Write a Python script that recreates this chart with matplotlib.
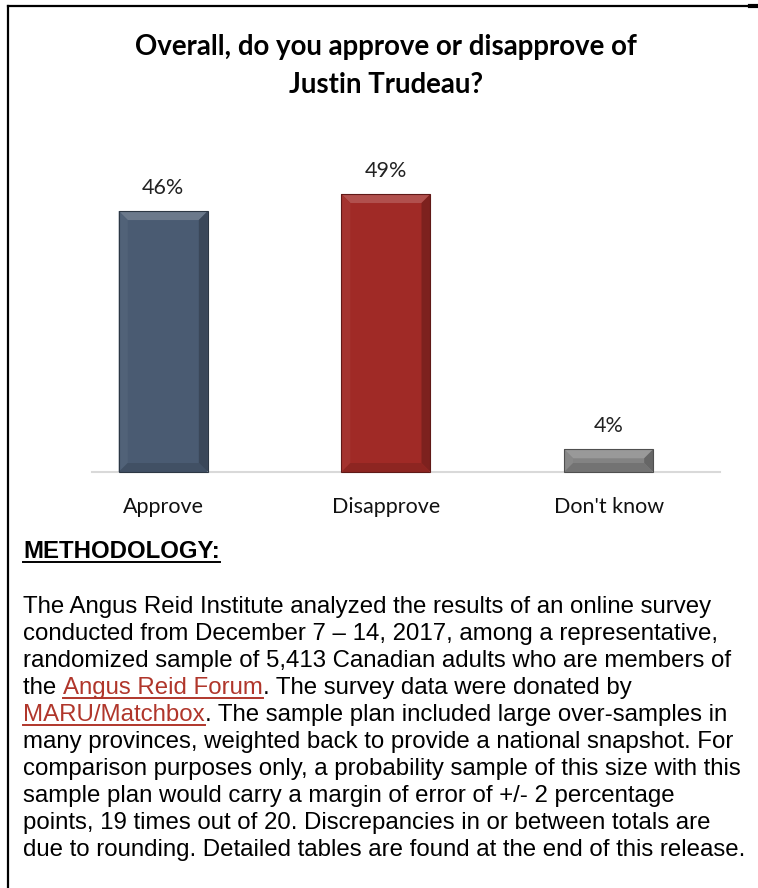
import matplotlib
matplotlib.use("Agg")
import matplotlib.pyplot as plt
import matplotlib.colors as mcolors
from matplotlib.lines import Line2D
from matplotlib.patches import Polygon
from matplotlib.transforms import IdentityTransform

# chart data
categories = ["Approve", "Disapprove", "Don't know"]
values = [46, 49, 4]
bar_colors = ["#4A5B72", "#A02A26", "#838383"]

title = "Overall, do you approve or disapprove of\nJustin Trudeau?"

# methodology text, one entry per line; (text, is_link) pieces
method_lines = [
    [("The Angus Reid Institute analyzed the results of an online survey", False)],
    [("conducted from December 7 \u2013 14, 2017, among a representative,", False)],
    [("randomized sample of 5,413 Canadian adults who are members of", False)],
    [("the ", False), ("Angus Reid Forum", True), (". The survey data were donated by", False)],
    [("MARU/Matchbox", True), (". The sample plan included large over-samples in", False)],
    [("many provinces, weighted back to provide a national snapshot. For", False)],
    [("comparison purposes only, a probability sample of this size with this", False)],
    [("sample plan would carry a margin of error of +/- 2 percentage", False)],
    [("points, 19 times out of 20. Discrepancies in or between totals are", False)],
    [("due to rounding. Detailed tables are found at the end of this release.", False)],
]


def shade(c, f):
    # f > 0 lighten toward white, f < 0 darken toward black
    r, g, b = mcolors.to_rgb(c)
    if f > 0:
        return (r + (1 - r) * f, g + (1 - g) * f, b + (1 - b) * f)
    return (r * (1 + f), g * (1 + f), b * (1 + f))


W, H = 758, 888
fig = plt.figure(figsize=(W / 100, H / 100), dpi=100)
fig.patch.set_facecolor("white")

# bar chart area
ax = fig.add_axes([92 / W, (H - 472) / H, 628 / W, (472 - 160) / H])
x = range(len(categories))
bars = ax.bar(x, values, width=0.40, color=bar_colors, edgecolor="none", zorder=3)
for b, v in zip(bars, values):
    ax.annotate(f"{v}%", (b.get_x() + b.get_width() / 2, v), xytext=(0, 9.5),
                textcoords="offset points", ha="center", va="bottom",
                fontsize=15.5, family="Lato", color="#222222")
ax.set_xlim(-0.32, 2.5)
ax.set_ylim(0, 55)
ax.set_xticks(list(x))
ax.set_xticklabels(categories, fontsize=15.5, family="Lato", color="#111111")
ax.tick_params(axis="x", length=0, pad=18)
ax.set_yticks([])
for s in ["top", "right", "left"]:
    ax.spines[s].set_visible(False)
ax.spines["bottom"].set_color("#D9D9D9")
ax.spines["bottom"].set_linewidth(1.5)
ax.spines["bottom"].set_zorder(4)

# bevelled look on each bar, drawn in pixel space from the bar geometry
bev = 9
for b, c in zip(bars, bar_colors):
    (x0, y0), (x1, y1) = ax.transData.transform([(b.get_x(), 0), (b.get_x() + b.get_width(), b.get_height())])
    d = min(bev, (y1 - y0) / 2)
    faces = [
        ([(x0, y1), (x1, y1), (x1 - d, y1 - d), (x0 + d, y1 - d)], shade(c, 0.18)),
        ([(x0, y0), (x0, y1), (x0 + d, y1 - d), (x0 + d, y0 + d)], shade(c, 0.04)),
        ([(x1, y0), (x1, y1), (x1 - d, y1 - d), (x1 - d, y0 + d)], shade(c, -0.22)),
        ([(x0, y0), (x1, y0), (x1 - d, y0 + d), (x0 + d, y0 + d)], shade(c, -0.12)),
    ]
    for pts, fc in faces:
        fig.add_artist(Polygon(pts, closed=True, transform=IdentityTransform(),
                               facecolor=fc, edgecolor="none", zorder=5))
    fig.add_artist(Polygon([(x0, y0), (x1, y0), (x1, y1), (x0, y1)], closed=True,
                           transform=IdentityTransform(), facecolor="none",
                           edgecolor=shade(c, -0.4), lw=0.8, zorder=6))

fig.text(386 / W, 1 - 66 / H, title, ha="center", va="center", fontsize=19.9,
         family="Lato", fontweight="bold", linespacing=1.6)

# outer frame (top and left only)
fig.add_artist(Line2D([8 / W, 750 / W], [1 - 6 / H, 1 - 6 / H], color="black", lw=1.6))
fig.add_artist(Line2D([750 / W, 758 / W], [1 - 6 / H, 1 - 6 / H], color="black", lw=3))
fig.add_artist(Line2D([8 / W, 8 / W], [1 - 6 / H, 0], color="black", lw=1.6))

# methodology block
body_font = dict(family="Liberation Sans", fontsize=17.3)
link_color = "#B0362B"
heading = fig.text(23 / W, 1 - 552 / H, "METHODOLOGY:", ha="left", va="center",
                   fontweight="bold", color="black", **body_font)
underlined = [(heading, "black")]

y0, dy = 605, 26.9
chained = []
for i, pieces in enumerate(method_lines):
    prev = None
    for txt, link in pieces:
        col = link_color if link else "black"
        if prev is None:
            t = fig.text(23 / W, 1 - (y0 + i * dy) / H, txt, ha="left", va="center_baseline",
                         color=col, **body_font)
        else:
            t = fig.text(0, 1 - (y0 + i * dy) / H, txt, ha="left", va="center_baseline",
                         color=col, **body_font)
            chained.append((prev, t))
        if link:
            underlined.append((t, link_color))
        prev = t

# place continued pieces right after the previous piece on the same line
fig.canvas.draw()
r = fig.canvas.get_renderer()
for prev, t in chained:
    bb = prev.get_window_extent(r)
    t.set_x(bb.x1 / W)

for t, col in underlined:
    bb = t.get_window_extent(r)
    yl = (bb.y0 + 1.5) / H
    fig.add_artist(Line2D([bb.x0 / W, bb.x1 / W], [yl, yl], color=col, lw=1.4))

fig.savefig("out.png", dpi=100, facecolor="white")
